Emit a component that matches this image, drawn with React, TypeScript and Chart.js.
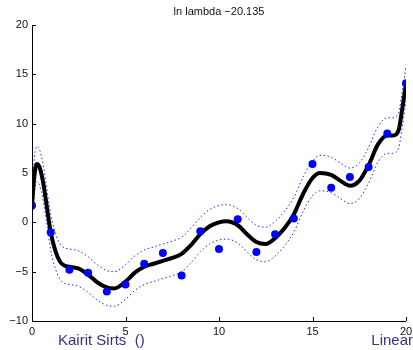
import React, { useEffect, useRef } from "react";
import { Chart, registerables } from "chart.js";

Chart.register(...registerables);

const pointX = [0, 1, 2, 3, 4, 5, 6, 7, 8, 9, 10, 11, 12, 13, 14, 15, 16, 17, 18, 19, 20];
const pointY = [1.7, -1.0, -4.8, -5.1, -7.0, -6.3, -4.2, -3.1, -5.4, -0.9, -2.7, 0.3, -3.0, -1.2, 0.4, 5.9, 3.5, 4.6, 5.6, 9.0, 14.1];

const curveX = [0, 0.1, 0.25, 0.4, 0.6, 0.8, 1.0, 1.25, 1.5, 1.75, 2.0, 2.5, 3.0, 3.5, 4.0, 4.4, 5.0, 5.5, 6.0, 6.5, 7.0, 7.5, 8.0, 8.5, 9.0, 9.5, 10.0, 10.4, 11.0, 11.5, 12.0, 12.5, 13.0, 13.5, 14.0, 14.5, 15.0, 15.4, 16.0, 16.5, 17.0, 17.5, 18.0, 18.5, 19.0, 19.3, 19.6, 19.8, 20.0];
const curveY = [1.7, 4.2, 5.9, 5.6, 4.0, 1.5, -1.0, -2.9, -4.0, -4.4, -4.5, -4.7, -5.3, -6.1, -6.6, -6.7, -6.0, -5.1, -4.5, -4.2, -3.9, -3.6, -3.2, -2.3, -1.2, -0.4, 0.0, 0.1, -0.3, -1.2, -2.0, -2.2, -1.6, -0.6, 0.8, 2.9, 4.5, 5.0, 4.8, 4.2, 3.7, 4.2, 5.8, 7.9, 8.8, 8.8, 9.3, 11.5, 14.1];
const upperY = [3.4, 6.0, 7.7, 7.4, 5.8, 3.3, 0.8, -1.1, -2.2, -2.6, -2.7, -2.9, -3.5, -4.3, -4.9, -5.0, -4.3, -3.4, -2.8, -2.5, -2.2, -1.9, -1.5, -0.6, 0.5, 1.3, 1.7, 1.8, 1.4, 0.5, -0.3, -0.5, 0.1, 1.1, 2.5, 4.6, 6.2, 6.8, 6.6, 6.0, 5.5, 6.0, 7.6, 9.7, 10.6, 10.6, 11.1, 13.3, 15.8];
const lowerY = [0.0, 2.4, 4.1, 3.8, 2.2, -0.3, -2.8, -4.7, -5.8, -6.2, -6.3, -6.5, -7.1, -7.9, -8.4, -8.5, -7.8, -6.9, -6.3, -6.0, -5.7, -5.4, -5.0, -4.1, -3.0, -2.2, -1.8, -1.7, -2.1, -3.0, -3.8, -4.0, -3.4, -2.4, -1.0, 1.1, 2.7, 3.2, 3.0, 2.4, 1.9, 2.4, 4.0, 6.1, 7.0, 7.0, 7.5, 9.7, 12.3];

const xTicks = [0, 5, 10, 15, 20];
const yTicks = [-10, -5, 0, 5, 10, 15, 20];
const titleText = "ln lambda \u221220.135";
const footLeft = "Kairit Sirts  ()";
const footRight = "Linear";

const fmt = (v: number) => (v < 0 ? "\u2212" + Math.abs(v) : String(v));

const decorPlugin = {
  id: "decor",
  afterDraw(chart: any) {
    const ctx = chart.ctx;
    const area = chart.chartArea;
    const xs = chart.scales.x;
    const ys = chart.scales.y;
    ctx.save();
    ctx.strokeStyle = "#000";
    ctx.lineWidth = 1;
    ctx.beginPath();
    ctx.moveTo(area.left + 0.5, area.top);
    ctx.lineTo(area.left + 0.5, area.bottom + 0.5);
    ctx.lineTo(area.right, area.bottom + 0.5);
    ctx.stroke();
    ctx.beginPath();
    for (const t of xTicks) {
      const px = Math.round(xs.getPixelForValue(t)) + 0.5;
      ctx.moveTo(px, area.bottom);
      ctx.lineTo(px, area.bottom - 4);
    }
    for (const t of yTicks) {
      const py = Math.round(ys.getPixelForValue(t)) + 0.5;
      ctx.moveTo(area.left, py);
      ctx.lineTo(area.left + 4, py);
    }
    ctx.stroke();
    ctx.fillStyle = "#111";
    ctx.font = "11px 'Liberation Sans', Arial, sans-serif";
    ctx.textAlign = "center";
    ctx.textBaseline = "top";
    for (const t of xTicks) {
      ctx.fillText(fmt(t), xs.getPixelForValue(t), area.bottom + 5);
    }
    ctx.textAlign = "right";
    ctx.textBaseline = "middle";
    for (const t of yTicks) {
      ctx.fillText(fmt(t), area.left - 4, ys.getPixelForValue(t));
    }
    ctx.textAlign = "center";
    ctx.textBaseline = "middle";
    ctx.font = "11px 'Liberation Sans', Arial, sans-serif";
    ctx.fillText(titleText, (area.left + area.right) / 2, 12);
    ctx.fillStyle = "#333385";
    ctx.font = "15px 'Liberation Sans', Arial, sans-serif";
    ctx.textBaseline = "alphabetic";
    ctx.textAlign = "left";
    ctx.fillText(footLeft, 58, 345);
    ctx.textAlign = "right";
    ctx.fillText(footRight, 413, 345);
    ctx.restore();
  },
};

export default function App() {
  const ref = useRef<HTMLCanvasElement>(null);
  useEffect(() => {
    document.body.style.margin = "0";
    if (!ref.current) return;
    const pts = pointX.map((x, i) => ({ x, y: pointY[i] }));
    const cur = curveX.map((x, i) => ({ x, y: curveY[i] }));
    const up = curveX.map((x, i) => ({ x, y: upperY[i] }));
    const lo = curveX.map((x, i) => ({ x, y: lowerY[i] }));
    const chart = new Chart(ref.current, {
      type: "scatter",
      data: {
        datasets: [
          {
            data: pts,
            showLine: false,
            pointRadius: 4,
            pointBackgroundColor: "#0000ff",
            pointBorderWidth: 0,
            borderColor: "#0000ff",
          },
          {
            data: cur,
            showLine: true,
            pointRadius: 0,
            borderColor: "#000",
            borderWidth: 4,
            cubicInterpolationMode: "monotone",
          },
          {
            data: up,
            showLine: true,
            pointRadius: 0,
            borderColor: "#2222ff",
            borderWidth: 1,
            borderDash: [1.5, 2.5],
            cubicInterpolationMode: "monotone",
          },
          {
            data: lo,
            showLine: true,
            pointRadius: 0,
            borderColor: "#2222ff",
            borderWidth: 1,
            borderDash: [1.5, 2.5],
            cubicInterpolationMode: "monotone",
          },
        ],
      } as any,
      options: {
        animation: false,
        responsive: false,
        maintainAspectRatio: false,
        layout: { padding: { top: 25, right: 7, left: 0, bottom: 0 } },
        plugins: { legend: { display: false }, tooltip: { enabled: false }, title: { display: false } },
        scales: {
          x: {
            type: "linear",
            min: 0,
            max: 20,
            grid: { display: false, drawTicks: false },
            border: { display: false },
            ticks: { display: false },
            afterFit: (s: any) => {
              s.height = 29;
            },
          },
          y: {
            type: "linear",
            min: -10,
            max: 20,
            grid: { display: false, drawTicks: false },
            border: { display: false },
            ticks: { display: false },
            afterFit: (s: any) => {
              s.width = 32;
            },
          },
        },
      } as any,
      plugins: [decorPlugin],
    });
    return () => chart.destroy();
  }, []);
  return (
    <div style={{ position: "absolute", left: 0, top: 0, width: 413, height: 350 }}>
      <canvas ref={ref} width={413} height={350} style={{ width: 413, height: 350 }} />
    </div>
  );
}
